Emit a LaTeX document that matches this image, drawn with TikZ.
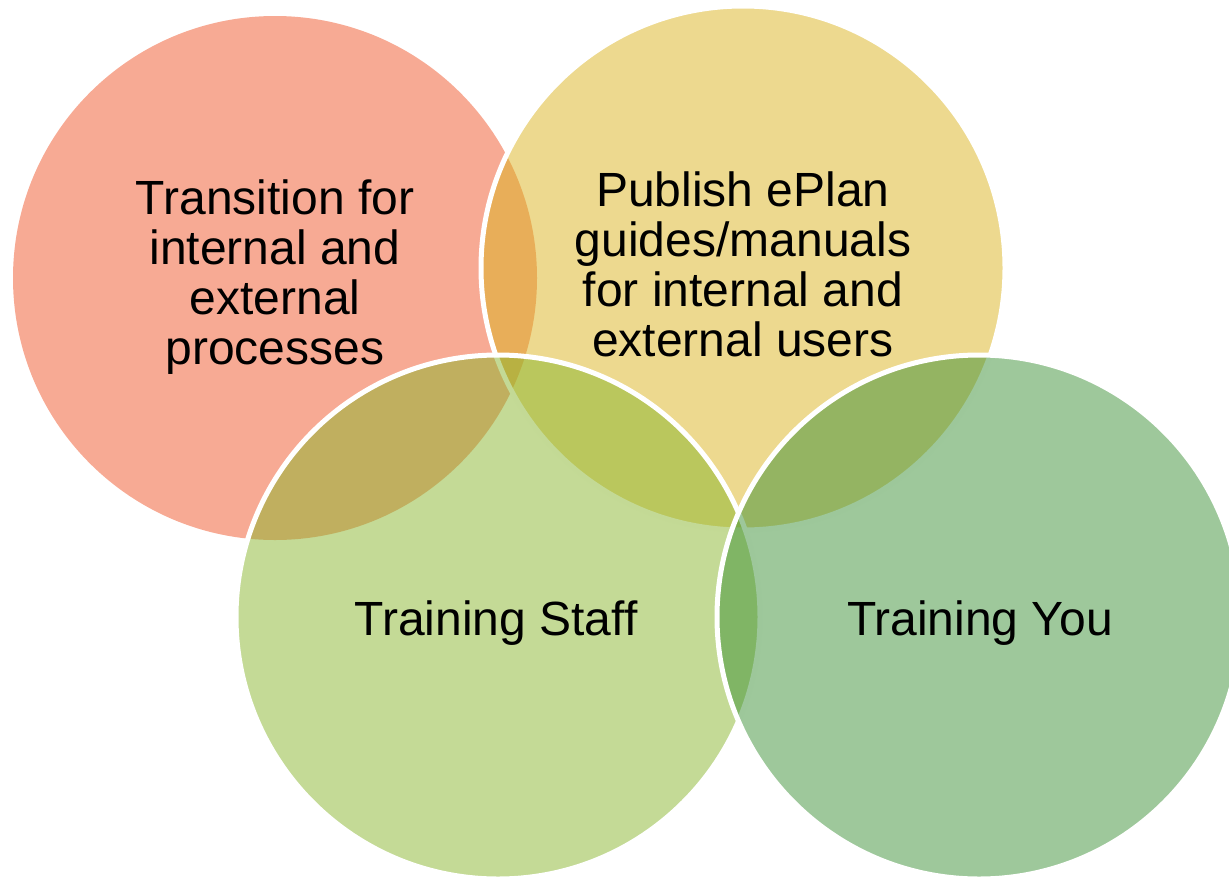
\documentclass[tikz,border=0pt]{standalone}
\usepackage{fontspec}
\setmainfont{Liberation Sans}
\definecolor{salmon}{RGB}{239,85,41}
\definecolor{mustard}{RGB}{219,179,31}
\definecolor{lime}{RGB}{137,181,45}
\definecolor{leaf}{RGB}{61,145,55}
\begin{document}
\begin{tikzpicture}[line cap=round, line join=round, x=1pt, y=-1pt,
	venn/.style={fill opacity=.5, draw=white, line width=5pt},
	lbl/.style={font=\fontsize{48}{50}\selectfont, align=center, inner sep=0pt}]
			\useasboundingbox (0,0) rectangle (1229,881);
			\def\rad{262pt}
			\fill[salmon, fill opacity=.5] (275,278) circle[radius=\rad];
			\draw[venn, fill=mustard] (743,268) circle[radius=\rad];
			\draw[venn, fill=lime] (498,617) circle[radius=\rad];
			\draw[venn, fill=leaf] (979,617) circle[radius=\rad];
			\node[lbl] (transition) at (275,277) {Transition for\\internal and\\external\\processes};
			\node[lbl] (publish) at (743,264) {Publish ePlan\\guides/manuals\\for internal and\\external users};
			\node[lbl, anchor=base] (staff) at (496,635) {Training Staff};
			\node[lbl, anchor=base] (you) at (980,635) {Training You};
			\end{tikzpicture}
\end{document}
